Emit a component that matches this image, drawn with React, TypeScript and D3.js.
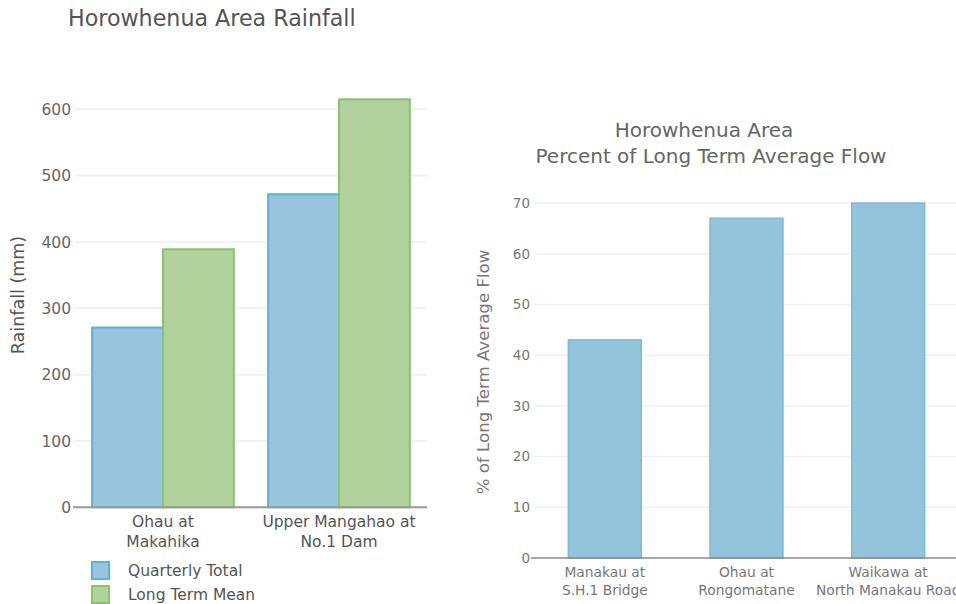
import React from "react";
import * as d3 from "d3";

const rainCategories = [["Ohau at", "Makahika"], ["Upper Mangahao at", "No.1 Dam"]];
const seriesNames = ["Quarterly Total", "Long Term Mean"];
const quarterlyTotal = [271, 472];
const longTermMean = [389, 615];
const rainTicks = [0, 100, 200, 300, 400, 500, 600];

const flowCategories = [["Manakau at", "S.H.1 Bridge"], ["Ohau at", "Rongomatane"], ["Waikawa at", "North Manakau Road"]];
const flowValues = [43, 67, 70];
const flowTicks = [0, 10, 20, 30, 40, 50, 60, 70];

const FONT = "DejaVu Sans, Verdana, sans-serif";
const seriesFill = ["#98c5dd", "#b1d29d"];
const seriesStroke = ["#5ab4d9", "#88c46c"];

export default function App() {
  // Left chart scales
  const yL = d3.scaleLinear().domain([0, 600]).range([507.3, 109.3]);
  const catKeys = rainCategories.map((c) => c.join(" "));
  const xL = d3.scaleBand<string>().domain(catKeys).range([75, 427]).paddingInner(0.195).paddingOuter(0.0975);
  const xS = d3.scaleBand<string>().domain(seriesNames).range([0, xL.bandwidth()]).padding(0);
  const seriesVals = [quarterlyTotal, longTermMean];

  // Right chart scales
  const yR = d3.scaleLinear().domain([0, 70]).range([558, 203]);
  const flowKeys = flowCategories.map((c) => c.join(" "));
  const xR = d3.scaleBand<string>().domain(flowKeys).range([534, 959]).paddingInner(0.485).paddingOuter(0.2425);

  return (
    <svg width={956} height={604} style={{ position: "absolute", left: 0, top: 0, background: "#fff" }} fontFamily={FONT}>
      {/* LEFT CHART */}
      <text x={68} y={26} fontSize={22.2} fill="#555">Horowhenua Area Rainfall</text>
      {rainTicks.map((t) => (
        <g key={"lg" + t}>
          {t !== 0 && <line x1={75} x2={427} y1={yL(t)} y2={yL(t)} stroke="#eeeeee" strokeWidth={1.5} />}
          <text x={71} y={yL(t)} dy="0.36em" textAnchor="end" fontSize={15.5} fill="#666">{t}</text>
        </g>
      ))}
      <text transform={`translate(24,${295}) rotate(-90)`} textAnchor="middle" fontSize={17.5} fill="#555">Rainfall (mm)</text>
      {catKeys.map((k, ci) =>
        seriesNames.map((s, si) => {
          const v = seriesVals[si][ci];
          const x = (xL(k) as number) + (xS(s) as number);
          return (
            <rect key={k + s} x={x} y={yL(v)} width={xS.bandwidth()} height={yL(0) - yL(v)}
              fill={seriesFill[si]} stroke={seriesStroke[si]} strokeWidth={2} />
          );
        })
      )}
      <line x1={73} x2={427} y1={yL(0)} y2={yL(0)} stroke="#999" strokeWidth={2} />
      {rainCategories.map((c, i) => {
        const cx = (xL(catKeys[i]) as number) + xL.bandwidth() / 2;
        return (
          <text key={"lc" + i} textAnchor="middle" fontSize={15.5} fill="#555">
            <tspan x={cx} y={527}>{c[0]}</tspan>
            <tspan x={cx} y={547}>{c[1]}</tspan>
          </text>
        );
      })}
      {seriesNames.map((s, i) => (
        <g key={"leg" + s}>
          <rect x={92} y={562 + i * 24} width={17} height={17} fill={seriesFill[i]} stroke={seriesStroke[i]} strokeWidth={2} />
          <text x={128} y={576 + i * 24} fontSize={15.5} fill="#555">{s}</text>
        </g>
      ))}

      {/* RIGHT CHART */}
      <text textAnchor="middle" fontSize={20} fill="#666">
        <tspan x={704} y={137}>Horowhenua Area</tspan>
        <tspan x={711} y={163}>Percent of Long Term Average Flow</tspan>
      </text>
      {flowTicks.map((t) => (
        <g key={"rg" + t}>
          {t !== 0 && <line x1={535} x2={956} y1={yR(t)} y2={yR(t)} stroke="#f0f0f0" strokeWidth={1.5} />}
          <text x={530} y={yR(t)} dy="0.36em" textAnchor="end" fontSize={13.5} fill="#777">{t}</text>
        </g>
      ))}
      <text transform={`translate(489,${372}) rotate(-90)`} textAnchor="middle" fontSize={16.6} fill="#777">% of Long Term Average Flow</text>
      {flowKeys.map((k, i) => (
        <rect key={"rb" + k} x={xR(k)} y={yR(flowValues[i])} width={xR.bandwidth()} height={yR(0) - yR(flowValues[i])}
          fill="#94c3dc" stroke="#80b9d6" strokeWidth={1.5} />
      ))}
      <line x1={531} x2={956} y1={yR(0)} y2={yR(0)} stroke="#888" strokeWidth={1.5} />
      {flowCategories.map((c, i) => {
        const cx = (xR(flowKeys[i]) as number) + xR.bandwidth() / 2;
        return (
          <text key={"rc" + i} textAnchor="middle" fontSize={13.8} fill="#777">
            <tspan x={cx} y={577}>{c[0]}</tspan>
            <tspan x={cx} y={595}>{c[1]}</tspan>
          </text>
        );
      })}
    </svg>
  );
}
